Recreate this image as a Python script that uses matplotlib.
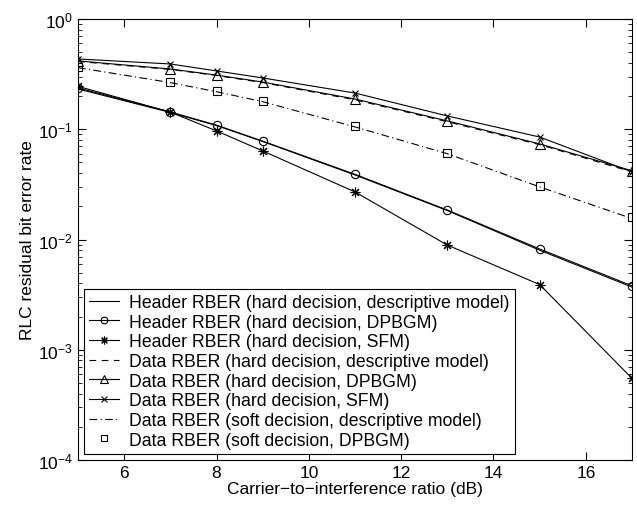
import matplotlib
matplotlib.use("Agg")
import matplotlib.pyplot as plt
from matplotlib.ticker import LogLocator, FixedLocator, NullFormatter
import numpy as np

plt.rcParams['font.family'] = ['Liberation Sans', 'DejaVu Sans']
plt.rcParams['mathtext.fontset'] = 'custom'
plt.rcParams['mathtext.rm'] = 'Liberation Sans'

# Carrier-to-interference ratio (dB)
cir = [5, 7, 8, 9, 11, 13, 15, 17]

# Header RBER, hard decision
hdr_desc = [0.232, 0.142, 0.108, 0.0775, 0.0385, 0.0183, 0.0080, 0.0037]
hdr_dpbgm = [0.237, 0.1435, 0.109, 0.078, 0.039, 0.0185, 0.0082, 0.0038]
hdr_sfm = [0.245, 0.143, 0.0966, 0.0636, 0.027, 0.0089, 0.0039, 0.00055]

# Data RBER, hard decision
dat_desc = [0.412, 0.349, 0.307, 0.265, 0.185, 0.117, 0.0725, 0.041]
dat_dpbgm = [0.417, 0.352, 0.31, 0.268, 0.188, 0.119, 0.0736, 0.042]
dat_sfm = [0.434, 0.391, 0.338, 0.292, 0.213, 0.132, 0.085, 0.041]

# Data RBER, soft decision
soft_desc = [0.362, 0.265, 0.219, 0.178, 0.105, 0.060, 0.030, 0.0155]
soft_dpbgm = [0.367, 0.268, 0.222, 0.181, 0.107, 0.061, 0.0306, 0.016]

fig = plt.figure(figsize=(6.37, 5.06), dpi=100)
ax = fig.add_axes([78 / 637, 45 / 506, 554 / 637, 441 / 506])

star = (8, 2, 0)  # asterisk like MATLAB '*'

ax.semilogy(cir, hdr_desc, 'k-', lw=0.8,
            label='Header RBER (hard decision, descriptive model)')
ax.semilogy(cir, hdr_dpbgm, 'k-', lw=0.8, marker='o', ms=6, mfc='none', mew=0.8,
            label='Header RBER (hard decision, DPBGM)')
ax.semilogy(cir, hdr_sfm, 'k-', lw=0.8, marker=star, ms=7, mew=0.8,
            label='Header RBER (hard decision, SFM)')
ax.semilogy(cir, dat_desc, 'k', lw=0.8, dashes=(6, 5),
            label='Data RBER (hard decision, descriptive model)')
ax.semilogy(cir, dat_dpbgm, 'k-', lw=0.8, marker='^', ms=7, mfc='none', mew=0.8,
            label='Data RBER (hard decision, DPBGM)')
ax.semilogy(cir, dat_sfm, 'k-', lw=0.8, marker='x', ms=5, mew=0.8,
            label='Data RBER (hard decision, SFM)')
ax.semilogy(cir, soft_desc, 'k', lw=0.8, dashes=(7, 3, 1, 3),
            label='Data RBER (soft decision, descriptive model)')
ax.semilogy(cir, soft_dpbgm, 'ks', ls='none', ms=5.5, mfc='none', mew=0.8,
            label='Data RBER (soft decision, DPBGM)')

ax.set_xlim(5, 17)
ax.set_ylim(1e-4, 1)
ax.xaxis.set_major_locator(FixedLocator([6, 8, 10, 12, 14, 16]))
ax.yaxis.set_major_locator(LogLocator(base=10, numticks=10))
ax.yaxis.set_minor_locator(LogLocator(base=10, subs=np.arange(2, 10), numticks=20))
ax.yaxis.set_minor_formatter(NullFormatter())
ax.tick_params(which='both', direction='in', top=True, right=True, labelsize=12.5)
ax.tick_params(which='major', length=6)
ax.tick_params(which='minor', length=3)

ax.set_xlabel('Carrier\u2212to\u2212interference ratio (dB)', fontsize=12.5, labelpad=1)
ax.set_ylabel('RLC residual bit error rate', fontsize=12.5, labelpad=2)

leg = ax.legend(loc='lower left', fontsize=12.7, handlelength=1.7, borderaxespad=0.35,
                labelspacing=0.15, handletextpad=0.55, fancybox=False,
                framealpha=1, edgecolor='k', borderpad=0.3, markerscale=0.8)
leg.get_frame().set_linewidth(0.8)

fig.savefig('out.png', dpi=100)
